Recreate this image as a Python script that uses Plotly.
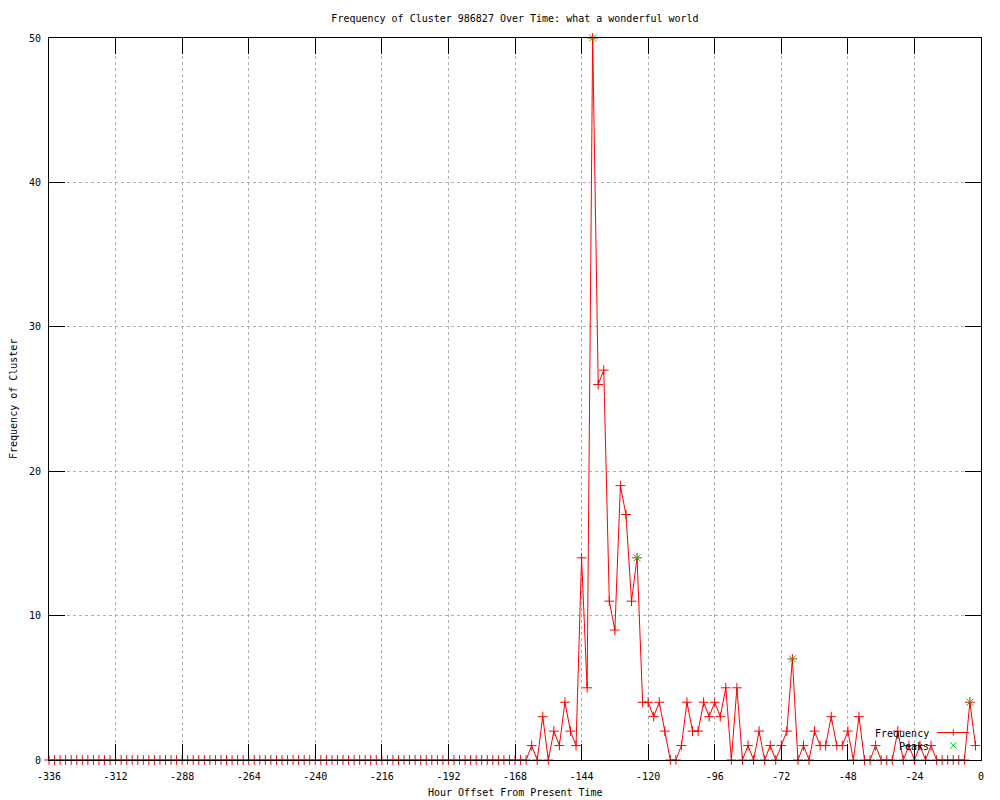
import plotly.graph_objects as go

# ---------------- data ----------------
hours = list(range(-336, 0, 2))  # hour offsets, one sample every 2 hours

frequency = [
    # -336 .. -168
    0, 0, 0, 0, 0, 0, 0, 0, 0, 0, 0, 0, 0, 0, 0, 0, 0, 0, 0, 0,
    0, 0, 0, 0, 0, 0, 0, 0, 0, 0, 0, 0, 0, 0, 0, 0, 0, 0, 0, 0,
    0, 0, 0, 0, 0, 0, 0, 0, 0, 0, 0, 0, 0, 0, 0, 0, 0, 0, 0, 0,
    0, 0, 0, 0, 0, 0, 0, 0, 0, 0, 0, 0, 0, 0, 0, 0, 0, 0, 0, 0,
    0, 0, 0, 0, 0,
    # -166 .. -2
    0, 0, 1, 0, 3, 0, 2, 1, 4, 2, 1, 14, 5, 50, 26, 27, 11, 9, 19, 17,
    11, 14, 4, 4, 3, 4, 2, 0, 0, 1, 4, 2, 2, 4, 3, 4, 3, 5, 0, 5,
    0, 1, 0, 2, 0, 1, 0, 1, 2, 7, 0, 1, 0, 2, 1, 1, 3, 1, 1, 2,
    0, 3, 0, 0, 1, 0, 0, 0, 2, 0, 1, 0, 1, 0, 1, 0, 0, 0, 0, 0,
    0, 4, 1,
]

peak_hours = [-140, -124, -68, -4]
peak_values = [50, 14, 7, 4]

x_tick_vals = [-336, -312, -288, -264, -240, -216, -192, -168, -144, -120, -96, -72, -48, -24, 0]
x_tick_labels = ["-336", "-312", "-288", "-264", "-240", "-216", "-192", "-168",
                 "-144", "-120", "-96", "-72", "-48", "-24", "0"]
y_tick_vals = [0, 10, 20, 30, 40, 50]
y_tick_labels = ["0", "10", "20", "30", "40", "50"]

title_text = "Frequency of Cluster 986827 Over Time: what a wonderful world"
x_title = "Hour Offset From Present Time"
y_title = "Frequency of Cluster"
legend_names = ["Frequency", "Peaks"]

# ---------------- style ----------------
FONT = "DejaVu Sans Mono"
RED = "#ff0000"
GREEN = "#00c000"
W, H = 1000, 800
L, R, T, B = 49, 19, 38, 40
PW, PH = W - L - R, H - T - B


def px(xp):
    return (xp - L) / PW


def py(yp):
    return (H - B - yp) / PH


fig = go.Figure()
fig.add_trace(go.Scatter(
    x=hours, y=frequency, mode="lines+markers", name=legend_names[0],
    line=dict(color=RED, width=1),
    marker=dict(symbol="cross-thin", size=7, color=RED, line=dict(color=RED, width=1)),
    cliponaxis=False, showlegend=False,
))
fig.add_trace(go.Scatter(
    x=peak_hours, y=peak_values, mode="markers", name=legend_names[1],
    marker=dict(symbol="x-thin", size=7, color=GREEN, line=dict(color=GREEN, width=1)),
    cliponaxis=False, showlegend=False,
))

axis_common = dict(
    showline=True, mirror="ticks", linecolor="black", linewidth=1,
    ticks="inside", ticklen=16, tickwidth=1, tickcolor="black",
    showgrid=True, gridcolor="#b0b0b0", griddash="dot", gridwidth=1,
    zeroline=False, tickfont=dict(family=FONT, size=10, color="black"),
)
fig.update_xaxes(range=[-336, 0], tickmode="array", tickvals=x_tick_vals,
                 ticktext=x_tick_labels, ticklabelstandoff=7, **axis_common)
fig.update_yaxes(range=[0, 50], tickmode="array", tickvals=y_tick_vals,
                 ticktext=y_tick_labels, ticklabelstandoff=5, **axis_common)

# manual gnuplot-style key (text on the left, sample on the right)
shapes = []
ly1, ly2 = py(732.5), py(745.5)
sx = px(953.3)
dx, dy = 3.2 / PW, 3.2 / PH
shapes.append(dict(type="line", xref="paper", yref="paper", x0=px(937), x1=px(969),
                   y0=ly1, y1=ly1, line=dict(color=RED, width=1)))
shapes.append(dict(type="line", xref="paper", yref="paper", x0=sx - dx, x1=sx + dx,
                   y0=ly1, y1=ly1, line=dict(color=RED, width=1)))
shapes.append(dict(type="line", xref="paper", yref="paper", x0=sx, x1=sx,
                   y0=ly1 - dy, y1=ly1 + dy, line=dict(color=RED, width=1)))
shapes.append(dict(type="line", xref="paper", yref="paper", x0=sx - dx, x1=sx + dx,
                   y0=ly2 - dy, y1=ly2 + dy, line=dict(color=GREEN, width=1)))
shapes.append(dict(type="line", xref="paper", yref="paper", x0=sx - dx, x1=sx + dx,
                   y0=ly2 + dy, y1=ly2 - dy, line=dict(color=GREEN, width=1)))

annotations = [
    dict(text=legend_names[0], xref="paper", yref="paper", x=px(931), y=py(733.3),
         xanchor="right", yanchor="middle", showarrow=False,
         font=dict(family=FONT, size=10, color="black")),
    dict(text=legend_names[1], xref="paper", yref="paper", x=px(931), y=py(746.7),
         xanchor="right", yanchor="middle", showarrow=False,
         font=dict(family=FONT, size=10, color="black")),
    dict(text=x_title, xref="paper", yref="paper", x=0.5, y=py(792),
         xanchor="center", yanchor="middle", showarrow=False,
         font=dict(family=FONT, size=10, color="black")),
    dict(text=y_title, xref="paper", yref="paper", x=px(13), y=0.5, textangle=-90,
         xanchor="center", yanchor="middle", showarrow=False,
         font=dict(family=FONT, size=10, color="black")),
]

fig.update_layout(
    width=W, height=H,
    margin=dict(l=L, r=R, t=T, b=B, autoexpand=False),
    paper_bgcolor="white", plot_bgcolor="white",
    title=dict(text=title_text, x=0.5, xref="paper", xanchor="center",
               y=1 - 18 / H, yref="container", yanchor="middle",
               font=dict(family=FONT, size=10, color="black")),
    showlegend=False,
    shapes=shapes,
    annotations=annotations,
)

fig.write_html(
    "out.html",
    config={"displayModeBar": False},
    post_script="document.body.style.margin='0px';document.body.style.overflow='hidden';",
)
